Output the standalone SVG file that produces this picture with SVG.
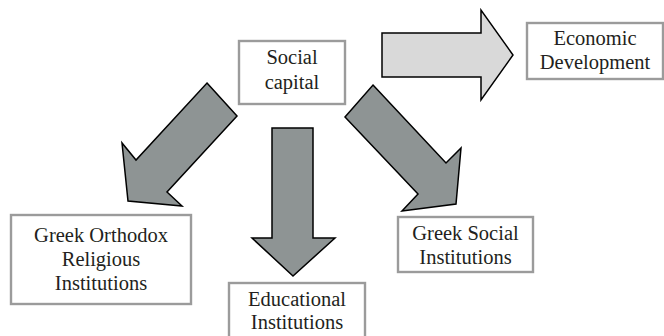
<svg xmlns="http://www.w3.org/2000/svg" width="664" height="336" viewBox="0 0 664 336">
<style>
.box{fill:#ffffff;stroke:#9b9b9b;stroke-width:2.4}
.arr{fill:#8e9494;stroke:#000000;stroke-width:1.5;stroke-linejoin:miter}
.arrl{fill:#d9d9d9;stroke:#000000;stroke-width:1.5}
text{font-family:"Liberation Serif","Times New Roman",serif;font-size:20.5px;fill:#231f20;text-anchor:middle}
</style>
<rect width="664" height="336" fill="#ffffff"/>
<g id="connectors">
<polygon class="arrl" points="382,33 481,33 481,10 513,55 481,100 481,77 382,77"/>
<polygon class="arr" points="207,83 237,116 167,192 182,206 128,201 122,143 136,160"/>
<polygon class="arr" points="272,128 313,128 313,238 335,238 293,276 252,238 272,238"/>
<polygon class="arr" points="373,85 446,163 461,148 456,204 402,211 418,194 345,117"/>
</g>
<g id="social-capital">
<rect class="box" x="239" y="41" width="106" height="63"/>
<text x="292" y="64">Social</text>
<text x="292" y="89">capital</text>
</g>
<g id="economic-development">
<rect class="box" x="527" y="23" width="136" height="56"/>
<text x="595" y="45">Economic</text>
<text x="595" y="69">Development</text>
</g>
<g id="greek-orthodox">
<rect class="box" x="11" y="215" width="180" height="89"/>
<text x="101" y="242">Greek Orthodox</text>
<text x="101" y="266">Religious</text>
<text x="101" y="290">Institutions</text>
</g>
<g id="educational">
<rect class="box" x="229" y="283" width="136" height="58"/>
<text x="297" y="306">Educational</text>
<text x="297" y="329">Institutions</text>
</g>
<g id="greek-social">
<rect class="box" x="398" y="217" width="135" height="55"/>
<text x="465.5" y="240">Greek Social</text>
<text x="465.5" y="264">Institutions</text>
</g>
</svg>
